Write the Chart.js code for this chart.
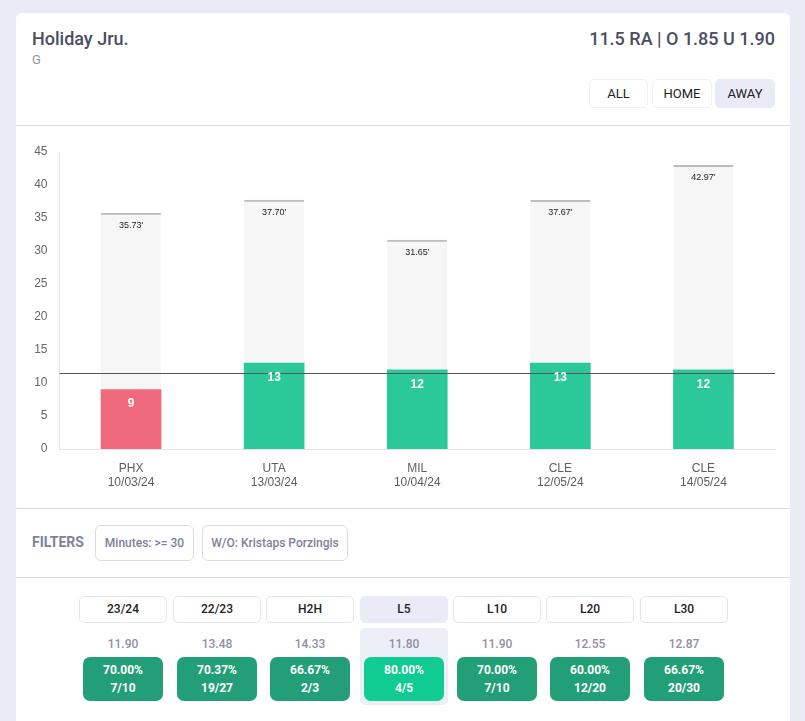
<!DOCTYPE html>
<html>
<head>
<meta charset="utf-8">
<script src="https://cdn.jsdelivr.net/npm/chart.js@4"></script>
<style>
  * { box-sizing: border-box; }
  html, body { margin: 0; height: 721px; overflow: hidden; background: #e9ebf7; font-family: Roboto, sans-serif; }
  .card { position: absolute; left: 16px; top: 13px; width: 774px; height: 720px; background: #fff; border-radius: 6px; }
  .header { position: relative; height: 113px; border-bottom: 1px solid #dcdcdf; }
  .name { position: absolute; left: 16px; top: 15px; font-size: 18px; font-weight: 500; color: #4a4e60; }
  .pos { position: absolute; left: 16px; top: 39px; font-size: 13px; color: #94959f; }
  .odds { position: absolute; right: 15px; top: 15px; font-size: 18px; font-weight: 500; color: #4a4e60; }
  .side { position: absolute; top: 66px; height: 29px; border: 1px solid #eff0f4; border-radius: 5px; font-size: 13px; font-weight: 400; color: #222; text-align: center; line-height: 28px; }
  .side.on, .range.on { background: #e9ebf7; border-color: #e9ebf7; }
  .chartBox { position: relative; height: 383px; border-bottom: 1px solid #dcdcdf; }
  .filters { position: relative; height: 69px; border-bottom: 1px solid #dcdcdf; }
  .filters b { position: absolute; left: 16px; top: 25px; font-size: 14px; font-weight: 700; color: #7e8299; }
  .chip { position: absolute; top: 16px; height: 36px; border: 1px solid #dcdde3; border-radius: 6px; font-size: 12px; font-weight: 500; color: #7e7f9a; text-align: center; line-height: 34px; }
  .range { position: absolute; top: 18px; width: 88px; height: 27px; border: 1px solid #e4e5ea; border-radius: 5px; font-size: 12px; font-weight: 500; color: #222; text-align: center; line-height: 25px; }
  .stats { position: relative; }
  .col { position: absolute; top: 50px; width: 88px; height: 77px; border-radius: 5px; }
  .col.on { background: #eceef8; }
  .avg { position: absolute; top: 9px; width: 100%; text-align: center; font-size: 12px; font-weight: 500; color: #8f90a6; }
  .rate { position: absolute; left: 4px; top: 29px; width: 80px; height: 44px; border-radius: 7px; background: #239f78; color: #fff; font-size: 12px; font-weight: 700; text-align: center; line-height: 18px; padding-top: 4px; }
  .col.on .rate { background: #10cb92; }
</style>
</head>
<body>
<div class="card">
  <div class="header">
    <div class="name">Holiday Jru.</div>
    <div class="pos">G</div>
    <div class="odds">11.5 RA | O 1.85 U 1.90</div>
    <div class="side" style="left:573px;width:59px">ALL</div>
    <div class="side" style="left:636px;width:60px">HOME</div>
    <div class="side on" style="left:699px;width:60px">AWAY</div>
  </div>
  <div class="chartBox"><canvas id="pointsChart" width="774" height="381"></canvas></div>
  <div class="filters">
    <b>FILTERS</b>
    <div class="chip" style="left:79px;width:99px">Minutes: &gt;= 30</div>
    <div class="chip" style="left:186px;width:146px">W/O: Kristaps Porzingis</div>
  </div>
  <div class="stats" id="stats"></div>
</div>
<script>
const teams = ["PHX", "UTA", "MIL", "CLE", "CLE"];
const dates = ["10/03/24", "13/03/24", "10/04/24", "12/05/24", "14/05/24"];
const points = [9, 13, 12, 13, 12];
const minutes = [35.73, 37.70, 31.65, 37.67, 42.97];
const lineValue = 11.5;

const rangeNames = ["23/24", "22/23", "H2H", "L5", "L10", "L20", "L30"];
const rangeAvgs = ["11.90", "13.48", "14.33", "11.80", "11.90", "12.55", "12.87"];
const rangeRates = ["70.00%", "70.37%", "66.67%", "80.00%", "70.00%", "60.00%", "66.67%"];
const rangeCounts = ["7/10", "19/27", "2/3", "4/5", "7/10", "12/20", "20/30"];
const activeRange = "L5";

const chartFont = "'Liberation Sans', Arial, sans-serif";

// Range buttons and hit rate boxes under the chart
const stats = document.getElementById("stats");
const colLefts = [63, 157, 250, 344, 437, 530, 624];
rangeNames.forEach((name, i) => {
  const on = name === activeRange ? " on" : "";
  stats.innerHTML +=
    `<div class="range${on}" style="left:${colLefts[i]}px">${name}</div>` +
    `<div class="col${on}" style="left:${colLefts[i]}px">` +
    `<div class="avg">${rangeAvgs[i]}</div>` +
    `<div class="rate">${rangeRates[i]}<br>${rangeCounts[i]}</div></div>`;
});

// Line for the betting number, plus the text inside the bars
const overlayPlugin = {
  id: "overlay",
  afterDatasetsDraw(chart) {
    const { ctx, chartArea, scales } = chart;
    const y = Math.round(scales.y.getPixelForValue(lineValue)) + 0.5;
    ctx.save();
    ctx.strokeStyle = "#555";
    ctx.lineWidth = 1.2;
    ctx.beginPath();
    ctx.moveTo(chartArea.left, y);
    ctx.lineTo(chartArea.right, y);
    ctx.stroke();

    ctx.textAlign = "center";
    ctx.textBaseline = "middle";
    ctx.fillStyle = "#fff";
    ctx.font = "700 12px " + chartFont;
    chart.getDatasetMeta(0).data.forEach((bar, i) => {
      ctx.fillText(points[i], bar.x, bar.y + 14.5);
    });
    ctx.fillStyle = "#222";
    ctx.font = "9px " + chartFont;
    chart.getDatasetMeta(1).data.forEach((bar, i) => {
      ctx.fillText(minutes[i].toFixed(2) + "'", bar.x, bar.y + 12);
    });
    ctx.restore();
  }
};

new Chart(document.getElementById("pointsChart").getContext("2d"), {
  type: "bar",
  data: {
    labels: teams.map((t, i) => [t, dates[i]]),
    datasets: [
      {
        label: "Points",
        data: points,
        backgroundColor: points.map(p => p > lineValue ? "#2bc999" : "#ef6b7b"),
        barThickness: 60
      },
      {
        label: "Minutes",
        data: minutes,
        backgroundColor: "#f6f6f6",
        borderColor: "#bdbdbd",
        borderWidth: { top: 2 },
        borderSkipped: false,
        barThickness: 60
      }
    ]
  },
  options: {
    responsive: false,
    animation: false,
    grouped: false,
    layout: { padding: { top: 26, right: 15, left: 0, bottom: 0 } },
    plugins: { legend: { display: false }, tooltip: { enabled: false } },
    scales: {
      x: {
        grid: { display: false },
        border: { color: "#e4e4e8" },
        ticks: { color: "#5e5e5e", font: { family: chartFont, size: 12, lineHeight: 1.17 }, padding: 5, maxRotation: 0 },
        afterFit: scale => { scale.height = 58; }
      },
      y: {
        min: 0,
        max: 45,
        grid: { display: false },
        border: { color: "#e4e4e8" },
        ticks: { stepSize: 5, color: "#666", font: { family: chartFont, size: 12 }, padding: 4 },
        afterFit: scale => { scale.width = 43.5; }
      }
    }
  },
  plugins: [overlayPlugin]
});
</script>
</body>
</html>
